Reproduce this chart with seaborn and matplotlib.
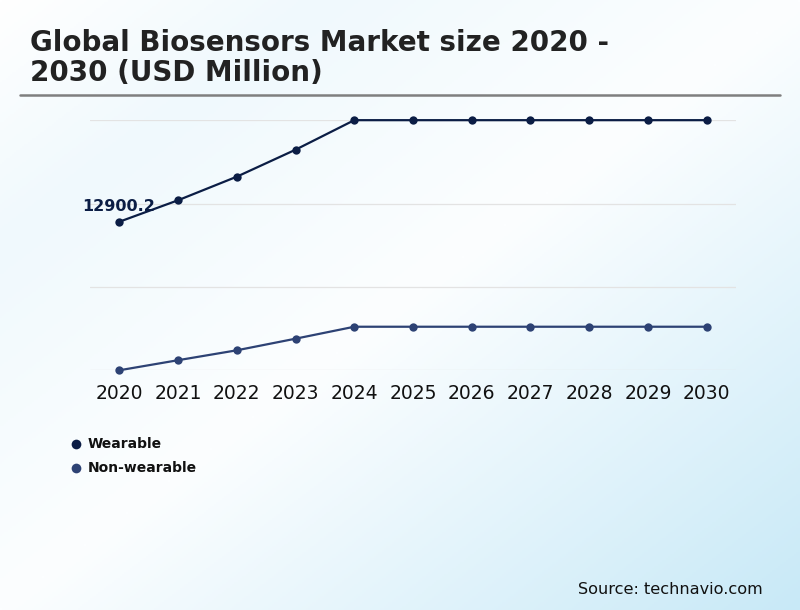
import numpy as np
import pandas as pd
import matplotlib.pyplot as plt
import seaborn as sns
from matplotlib.colors import to_rgb
from matplotlib.lines import Line2D

years = [2020, 2021, 2022, 2023, 2024, 2025, 2026, 2027, 2028, 2029, 2030]
wearable = [12900.2, 14160, 15540, 17120, 18850, 18850, 18850, 18850, 18850, 18850, 18850]
non_wearable = [4200, 4790, 5370, 6050, 6750, 6750, 6750, 6750, 6750, 6750, 6750]
series_names = ["Wearable", "Non-wearable"]
colors = ["#0b1d45", "#2d4274"]

df = pd.DataFrame({
    "year": years * 2,
    "value": wearable + non_wearable,
    "segment": [series_names[0]] * len(years) + [series_names[1]] * len(years),
})

sns.set_theme(style="white")
plt.rcParams['font.family'] = ['DejaVu Sans']

fig = plt.figure(figsize=(8, 6.1), dpi=100)

# diagonal gradient background (top-left -> bottom-right)
bg = fig.add_axes([0, 0, 1, 1], zorder=-10)
gx, gy = np.meshgrid(np.linspace(0, 1, 400), np.linspace(0, 1, 305))
t = (gx + gy) / 2
stops = [0.0, 0.2, 0.5, 1.0]
stop_cols = [to_rgb(c) for c in ["#ffffff", "#f0f9fd", "#fcfeff", "#c8e9f7"]]
img = np.dstack([np.interp(t, stops, [c[k] for c in stop_cols]) for k in range(3)])
bg.imshow(img, aspect="auto", extent=[0, 1, 0, 1], origin="upper")
bg.set_axis_off()

fig.text(0.038, 0.953, "Global Biosensors Market size 2020 -\n2030 (USD Million)",
         fontsize=20, fontweight="bold", color="#222222", va="top", ha="left",
         linespacing=1.12)
fig.add_artist(Line2D([0.025, 0.975], [0.844, 0.844], color="#7f7f7f", lw=1.8))

ax = fig.add_axes([0.1125, 0.393, 0.8075, 0.41])
ax.patch.set_alpha(0)
sns.lineplot(data=df, x="year", y="value", hue="segment", palette=colors,
             marker="o", markersize=6, markeredgewidth=0, linewidth=1.6,
             ax=ax, legend=False, clip_on=False)

lo, hi = min(non_wearable), max(wearable)
ax.set_ylim(lo, hi)
ax.set_xlim(2019.5, 2030.5)
ax.set_yticks(np.linspace(lo, hi, 4))
ax.set_yticklabels([])
ax.set_xticks(years)
ax.set_xticklabels([str(y) for y in years], fontsize=13.5, color="#111111")
ax.tick_params(axis="x", length=0, pad=10)
ax.tick_params(axis="y", length=0)
ax.grid(axis="y", color="#e3e3e3", linewidth=0.9)
ax.grid(axis="x", visible=False)
for s in ax.spines.values():
    s.set_visible(False)
ax.set_xlabel("")
ax.set_ylabel("")

ax.annotate(f"{wearable[0]}", xy=(years[0], wearable[0]), xytext=(26, 11),
            textcoords="offset points", ha="right", va="center",
            fontsize=11.5, fontweight="bold", color=colors[0])

for i, (name, c) in enumerate(zip(series_names, colors)):
    yy = 1 - (444 + 24 * i) / 610
    fig.add_artist(Line2D([76 / 800], [yy], marker="o", color=c, markersize=7,
                          linestyle="none", markeredgewidth=0))
    fig.text(88 / 800, yy, name, fontsize=10, fontweight="bold", color="#111111",
             va="center", ha="left")

fig.text(0.954, 0.034, "Source: technavio.com", fontsize=11.6, color="#111111",
         ha="right", va="center")

fig.savefig("out.png", dpi=100)
